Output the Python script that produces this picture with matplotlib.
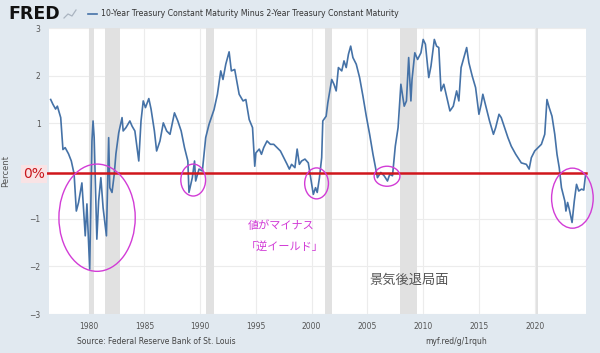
import matplotlib
matplotlib.use("Agg")
import numpy as np
import matplotlib.pyplot as plt
from matplotlib.patches import Ellipse

# 10Y minus 2Y spread (decimal year, percent)
years = [1976.6, 1976.8, 1977.04, 1977.2, 1977.5, 1977.7, 1977.9, 1978.2, 1978.45, 1978.7,
         1978.9, 1979.1, 1979.4, 1979.7, 1979.85, 1980.1, 1980.3, 1980.4, 1980.5, 1980.74,
         1980.9, 1981.1, 1981.3, 1981.6, 1981.8, 1981.9, 1982.1, 1982.3, 1982.45, 1982.7,
         1983.0, 1983.1, 1983.35, 1983.7, 1983.9, 1984.15, 1984.5, 1984.7, 1984.9, 1985.1,
         1985.4, 1985.6, 1985.9, 1986.1, 1986.4, 1986.7, 1987.0, 1987.3, 1987.7, 1988.0,
         1988.3, 1988.6, 1988.9, 1989.0, 1989.3, 1989.5, 1989.6, 1989.9, 1990.2, 1990.5,
         1990.8, 1991.25, 1991.55, 1991.85, 1992.05, 1992.3, 1992.6, 1992.8, 1993.1, 1993.5,
         1993.85, 1994.1, 1994.4, 1994.7, 1994.9, 1995.0, 1995.3, 1995.5, 1995.7, 1996.0,
         1996.3, 1996.6, 1996.9, 1997.2, 1997.5, 1997.8, 1998.0, 1998.2, 1998.5, 1998.7,
         1998.9, 1999.1, 1999.4, 1999.7, 2000.0, 2000.15, 2000.35, 2000.5, 2000.7, 2000.9,
         2001.0, 2001.3, 2001.45, 2001.8, 2002.0, 2002.2, 2002.4, 2002.7, 2002.9, 2003.1,
         2003.3, 2003.5, 2003.7, 2004.0, 2004.3, 2004.6, 2004.9, 2005.2, 2005.5, 2005.9,
         2006.2, 2006.5, 2006.8, 2007.0, 2007.25, 2007.5, 2007.75, 2008.0, 2008.3, 2008.5,
         2008.7, 2008.9, 2009.0, 2009.25, 2009.5, 2009.8, 2010.0, 2010.2, 2010.5, 2010.7,
         2011.0, 2011.2, 2011.4, 2011.6, 2011.85, 2012.1, 2012.4, 2012.7, 2013.0, 2013.2,
         2013.4, 2013.6, 2013.9, 2014.1, 2014.4, 2014.7, 2015.0, 2015.2, 2015.35, 2015.65,
         2015.95, 2016.3, 2016.5, 2016.8, 2017.0, 2017.3, 2017.6, 2017.9, 2018.3, 2018.8,
         2019.25, 2019.5, 2019.7, 2020.0, 2020.3, 2020.6, 2020.9, 2021.1, 2021.3, 2021.55,
         2021.8, 2022.0, 2022.2, 2022.4, 2022.7, 2022.8, 2022.95, 2023.1, 2023.35, 2023.55,
         2023.75, 2023.95, 2024.2, 2024.4, 2024.55]
spread = [1.50, 1.40, 1.30, 1.36, 1.12, 0.45, 0.49, 0.36, 0.21, -0.06,
          -0.84, -0.66, -0.25, -1.36, -0.69, -2.06, 0.63, 1.05, 0.70, -1.43,
          -0.63, -0.14, -0.77, -1.36, 0.70, -0.35, -0.45, -0.07, 0.36, 0.80,
          1.12, 0.84, 0.91, 1.05, 0.94, 0.84, 0.21, 1.05, 1.47, 1.33,
          1.52, 1.30, 0.84, 0.42, 0.63, 1.01, 0.84, 0.77, 1.22, 1.05,
          0.84, 0.49, 0.21, -0.45, -0.14, 0.21, -0.21, 0.04, 0.00, 0.70,
          0.98, 1.29, 1.61, 2.10, 1.92, 2.24, 2.50, 2.10, 2.13, 1.61,
          1.47, 1.50, 1.08, 0.91, 0.10, 0.38, 0.46, 0.35, 0.49, 0.63,
          0.56, 0.56, 0.49, 0.42, 0.28, 0.14, 0.04, 0.14, 0.07, 0.46,
          0.14, 0.21, 0.25, 0.17, -0.28, -0.49, -0.35, -0.45, -0.14, 0.28,
          1.05, 1.15, 1.43, 1.92, 1.82, 1.68, 2.17, 2.10, 2.31, 2.17,
          2.45, 2.62, 2.38, 2.24, 1.96, 1.57, 1.15, 0.77, 0.35, -0.14,
          -0.03, -0.10, -0.21, -0.07, -0.10, 0.52, 0.91, 1.82, 1.36, 1.47,
          2.38, 1.47, 1.92, 2.48, 2.34, 2.48, 2.76, 2.66, 1.96, 2.20,
          2.76, 2.62, 2.59, 1.68, 1.82, 1.57, 1.26, 1.36, 1.68, 1.47,
          2.17, 2.34, 2.59, 2.27, 1.99, 1.75, 1.19, 1.40, 1.61, 1.33,
          1.05, 0.77, 0.91, 1.19, 1.12, 0.91, 0.70, 0.52, 0.35, 0.17,
          0.14, 0.04, 0.28, 0.42, 0.49, 0.56, 0.77, 1.50, 1.33, 1.15,
          0.77, 0.35, 0.07, -0.35, -0.63, -0.84, -0.66, -0.80, -1.08, -0.63,
          -0.28, -0.42, -0.38, -0.40, -0.10]

# NBER recessions (start, end)
rec_start = [1980.0, 1981.5, 1990.55, 2001.2, 2007.9, 2020.1]
rec_end = [1980.5, 1982.85, 1991.2, 2001.85, 2009.45, 2020.3]

# hand-drawn circles marking inversions: centre year, centre value, width (yrs), height (pct)
circ_x = [1980.76, 1989.38, 2000.44, 2006.76, 2023.38]
circ_y = [-0.98, -0.19, -0.26, -0.11, -0.57]
circ_w = [6.84, 2.22, 2.13, 2.31, 3.73]
circ_h = [2.25, 0.67, 0.65, 0.42, 1.26]

xticks = [1980, 1985, 1990, 1995, 2000, 2005, 2010, 2015, 2020]
yticks = [-3, -2, -1, 1, 2, 3]

bg = "#e1e9f0"
fig = plt.figure(figsize=(6, 3.53), dpi=100, facecolor=bg)
ax = fig.add_axes([49 / 600, 39 / 353, 537 / 600, 286 / 353])
ax.set_facecolor("white")

for s, e in zip(rec_start, rec_end):
    ax.axvspan(s, e, color="#e1e1e1", lw=0, zorder=1)

ax.plot(years, spread, color="#4572a7", lw=1.2, zorder=3)

ax.set_xlim(1976.45, 2024.6)
ax.set_ylim(-3, 3)
ax.set_xticks(xticks)
ax.set_yticks(yticks)
ax.grid(True, color="#ececec", lw=0.8, zorder=0)
ax.set_axisbelow(True)
for sp in ax.spines.values():
    sp.set_visible(False)
ax.tick_params(length=0, labelsize=5.5, labelcolor="#555555", pad=6)
ax.set_ylabel("Percent", fontsize=6, color="#555555", labelpad=14)

# red 0% line
ax.plot([-0.005, 1.0], [-0.05, -0.05], color="#d0161c", lw=1.8,
        transform=ax.get_yaxis_transform(), clip_on=False, zorder=5)
fig.text(34 / 600, 1 - 174 / 353, "0%", color="#c8161c", fontsize=10,
         ha="center", va="center",
         bbox=dict(facecolor="#f9e3e5", edgecolor="none", pad=1.5))

for cx, cy, w, h in zip(circ_x, circ_y, circ_w, circ_h):
    ax.add_patch(Ellipse((cx, cy), w, h, fill=False, edgecolor="#d23cd6",
                         lw=1.0, clip_on=False, zorder=6))

jp = ["Noto Sans CJK JP", "DejaVu Sans"]
ax.text(1994.3, -1.15, "値がマイナス", color="#d13ad6", fontsize=8, family=jp,
        ha="left", va="center")
ax.text(1994.1, -1.58, "「逆イールド」", color="#d13ad6", fontsize=8, family=jp,
        ha="left", va="center")
ax.text(2005.15, -2.3, "景気後退局面", color="#555555", fontsize=9.5, family=jp,
        ha="left", va="center")

# header
fig.text(8 / 600, 1 - 14 / 353, "FRED", fontsize=12.5, fontweight="heavy",
         color="#111111", va="center", ha="left")
fig.add_artist(plt.Line2D([64 / 600, 68 / 600, 72 / 600, 76 / 600],
                          [1 - 18 / 353, 1 - 14 / 353, 1 - 16 / 353, 1 - 10 / 353],
                          color="#aab4c0", lw=0.9))
fig.add_artist(plt.Line2D([88 / 600, 97 / 600], [1 - 14 / 353, 1 - 14 / 353],
                          color="#4572a7", lw=1.2))
fig.text(101 / 600, 1 - 14 / 353,
         "10-Year Treasury Constant Maturity Minus 2-Year Treasury Constant Maturity",
         fontsize=5.6, color="#333333", va="center", ha="left")

# footer
fig.text(77 / 600, 1 - 342 / 353, "Source: Federal Reserve Bank of St. Louis",
         fontsize=5.5, color="#444444", va="center", ha="left")
fig.text(425 / 600, 1 - 342 / 353, "myf.red/g/1rquh",
         fontsize=5.5, color="#444444", va="center", ha="left")

fig.savefig("out.png", dpi=100, facecolor=bg)
